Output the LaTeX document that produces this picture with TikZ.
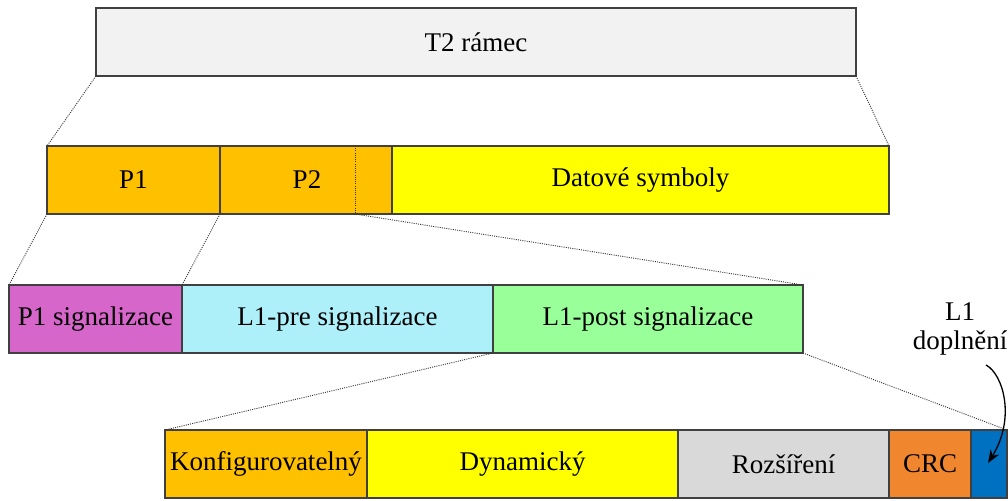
\documentclass[tikz,border=0pt]{standalone}
\usepackage{fontspec}
\setmainfont{Liberation Serif}
\usetikzlibrary{arrows.meta}
\definecolor{framegray}{HTML}{F2F2F2}
\definecolor{porange}{HTML}{FFC000}
\definecolor{dyellow}{HTML}{FFFF00}
\definecolor{sigmagenta}{HTML}{D766CB}
\definecolor{precyan}{HTML}{AEF0FA}
\definecolor{postgreen}{HTML}{99FF99}
\definecolor{extgray}{HTML}{D9D9D9}
\definecolor{crcorange}{HTML}{F0862E}
\definecolor{padblue}{HTML}{0070C0}
\definecolor{edge}{HTML}{404040}
\tikzset{
  field/.style={draw=edge, line width=1.2pt, anchor=north west, inner sep=0pt, outer sep=0pt,
    minimum height=68pt, font=\fontsize{27}{31}\selectfont, text=black},
  zoomline/.style={draw=black!80, line width=0.9pt, dash pattern=on 1pt off 1.2pt},
}
\begin{document}
\begin{tikzpicture}[x=1pt, y=-1pt]
\useasboundingbox (0,0) rectangle (1008,500);

% whole frame
\node[field, fill=framegray, minimum width=760pt] (t2) at (96,8) {T2 rámec};

% frame structure
\node[field, fill=porange, minimum width=173pt] (p1) at (47,146) {P1};
\node[field, fill=porange, minimum width=172pt] (p2) at (220,146) {};
\node[font=\fontsize{27}{31}\selectfont] at (307,180) {P2};
\node[field, fill=dyellow, minimum width=497pt] (data) at (392,146) {Datové symboly};
\coordinate (sigtop) at (355,146);
\coordinate (sigend) at (355,214);
\draw[zoomline] (sigtop) -- (sigend);

% signalling
\node[field, fill=sigmagenta, minimum width=173pt] (p1sig) at (9,285) {P1 signalizace};
\node[field, fill=precyan, minimum width=311pt] (pre) at (182,285) {L1-pre signalizace};
\node[field, fill=postgreen, minimum width=310pt] (post) at (493,285) {L1-post signalizace};

% L1-post content
\node[field, fill=porange, minimum width=202pt] (conf) at (165,430) {Konfigurovatelný};
\node[field, fill=dyellow, minimum width=311pt] (dyn) at (367,430) {Dynamický};
\node[field, fill=extgray, minimum width=211pt] (ext) at (678,430) {Rozšíření};
\node[field, fill=crcorange, minimum width=82pt] (crc) at (889,430) {CRC};
\node[field, fill=padblue, minimum width=36pt] (pad) at (971,430) {};

% zoom lines
\draw[zoomline] (t2.south west) -- (p1.north west);
\draw[zoomline] (t2.south east) -- (data.north east);
\draw[zoomline] (p1.south west) -- (p1sig.north west);
\draw[zoomline] (p1.south east) -- (pre.north west);
\draw[zoomline] (sigend) -- (post.north east);
\draw[zoomline] (post.south west) -- (conf.north west);
\draw[zoomline] (post.south east) -- (pad.north east);

% padding label
\node[align=center, font=\fontsize{27}{29}\selectfont] (padlab) at (960,329) {L1\\doplnění};
\coordinate (padfrom) at (986,365);
\coordinate (padto) at (988,463);
\draw[line width=1.3pt, -{Stealth[length=13pt, width=10pt]}] (padfrom) .. controls (1003,374) and (1016,418) .. (padto);
\end{tikzpicture}
\end{document}
